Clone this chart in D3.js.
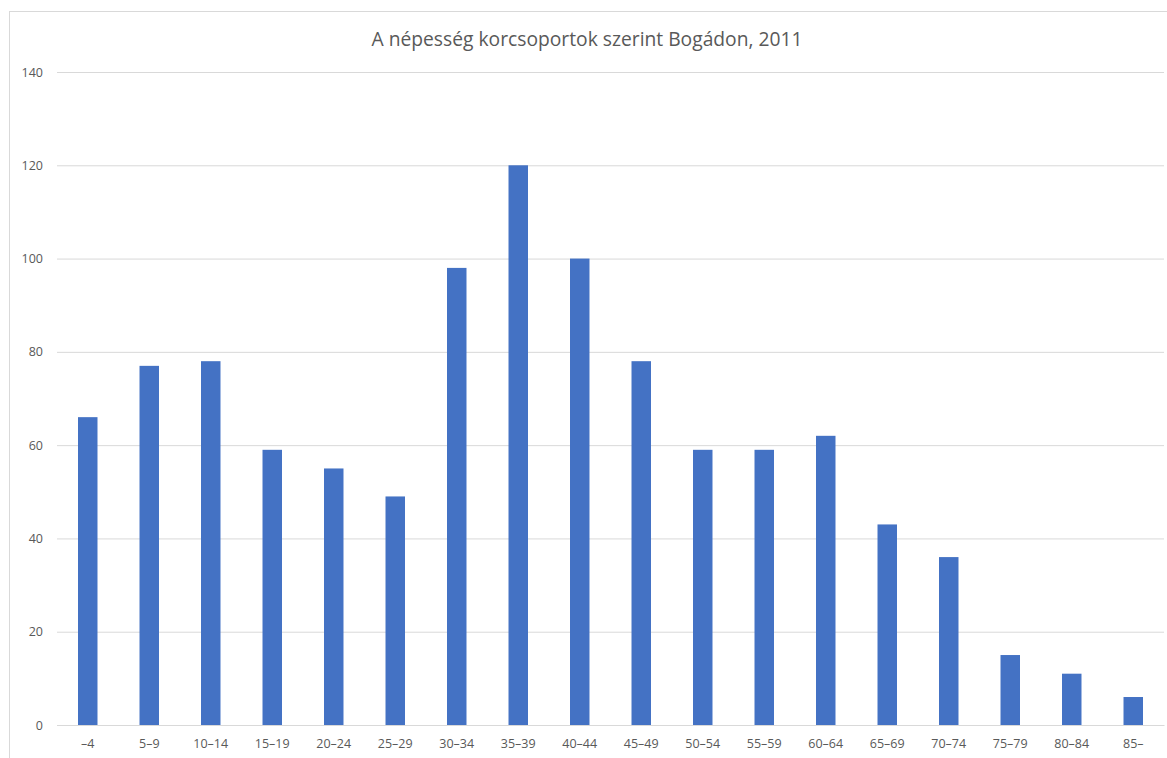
<!DOCTYPE html>
<html>
<head>
<meta charset="utf-8">
<script src="https://cdn.jsdelivr.net/npm/d3@7"></script>
<style>
  html, body { margin: 0; padding: 0; background: #fff; overflow: hidden; }
  svg { display: block; }
</style>
</head>
<body>
<svg id="chart" width="1167" height="758"></svg>
<script>
const title = "A népesség korcsoportok szerint Bogádon, 2011";
const categories = ["–4","5–9","10–14","15–19","20–24","25–29","30–34","35–39","40–44","45–49","50–54","55–59","60–64","65–69","70–74","75–79","80–84","85–"];
const values = [66,77,78,59,55,49,98,120,100,78,59,59,62,43,36,15,11,6];
const yTicks = [0,20,40,60,80,100,120,140];

const svg = d3.select("#chart");
const font = "'Open Sans', Lato, sans-serif";
const textColor = "#595959";

const plot = { left: 57, right: 1164, top: 72, bottom: 725 };

// chart frame
svg.append("rect")
  .attr("x", 9.5).attr("y", 11.5)
  .attr("width", 1200).attr("height", 800)
  .attr("fill", "#fff").attr("stroke", "#d9d9d9").attr("stroke-width", 1);

const x = d3.scaleBand().domain(categories).range([plot.left, plot.right]).padding(0);
const y = d3.scaleLinear().domain([0, 140]).range([plot.bottom, plot.top]);

// gridlines
const yAxis = d3.axisLeft(y).tickValues(yTicks).tickSize(-(plot.right - plot.left)).tickPadding(14).tickFormat(d3.format("d"));
const gy = svg.append("g").attr("transform", `translate(${plot.left},0)`).call(yAxis);
gy.select(".domain").remove();
gy.selectAll(".tick line").attr("stroke", "#d9d9d9").attr("stroke-width", 1);
gy.selectAll(".tick text").attr("fill", textColor).attr("font-family", font).attr("font-size", 12.5);

// bars
const barFrac = 0.317;
svg.append("g").selectAll("rect")
  .data(values)
  .join("rect")
  .attr("x", (d, i) => x(categories[i]) + x.bandwidth() * (1 - barFrac) / 2)
  .attr("width", x.bandwidth() * barFrac)
  .attr("y", d => y(d))
  .attr("height", d => y(0) - y(d))
  .attr("fill", "#4472c4");

// x axis
const xAxis = d3.axisBottom(x).tickSize(0).tickPadding(14);
const gx = svg.append("g").attr("transform", `translate(0,${plot.bottom})`).call(xAxis);
gx.select(".domain").attr("stroke", "#d9d9d9");
gx.selectAll(".tick text").attr("fill", textColor).attr("font-family", font).attr("font-size", 12.5);

// title
svg.append("text")
  .attr("x", 587).attr("y", 46)
  .attr("text-anchor", "middle")
  .attr("fill", textColor)
  .attr("font-family", font)
  .attr("font-size", 19.25)
  .text(title);
</script>
</body>
</html>
